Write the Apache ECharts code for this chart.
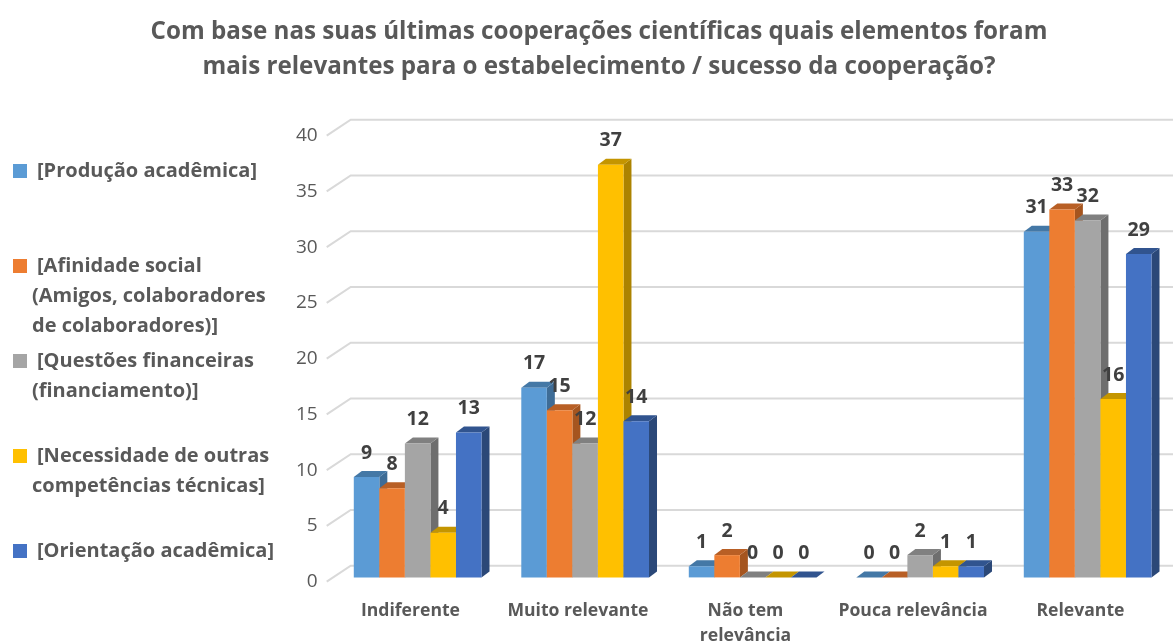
<!DOCTYPE html>
<html>
<head>
<meta charset="utf-8">
<style>
  html, body { margin: 0; padding: 0; background: #fff; }
  #chart { width: 1173px; height: 644px; }
</style>
<script src="https://cdn.jsdelivr.net/npm/echarts@6/dist/echarts.min.js"></script>
</head>
<body>
<div id="chart"></div>
<script>
const titleText = 'Com base nas suas últimas cooperações científicas quais elementos foram\nmais relevantes para o estabelecimento / sucesso da cooperação?';
const categories = ['Indiferente', 'Muito relevante', 'Não tem\nrelevância', 'Pouca relevância', 'Relevante'];
const yTicks = [0, 5, 10, 15, 20, 25, 30, 35, 40];

const seriesNames = [
  '[Produção acadêmica]',
  '[Afinidade social\n(Amigos, colaboradores\nde colaboradores)]',
  '[Questões financeiras\n(financiamento)]',
  '[Necessidade de outras\ncompetências técnicas]',
  '[Orientação acadêmica]'
];
const producao = [9, 17, 1, 0, 31];
const afinidade = [8, 15, 2, 0, 33];
const questoes = [12, 12, 0, 2, 32];
const necessidade = [4, 37, 0, 1, 16];
const orientacao = [13, 14, 0, 1, 29];
const allValues = [producao, afinidade, questoes, necessidade, orientacao];

const frontColors = ['#5B9BD5', '#ED7D31', '#A5A5A5', '#FFC000', '#4472C4'];
const topColors = ['#4478A6', '#B85F25', '#808080', '#C49500', '#31548F'];
const sideColors = ['#3E6C96', '#A5551F', '#6E6E6E', '#AC8300', '#2B4878'];

const font = '"Open Sans", sans-serif';
const barShare = 0.1525; // parte da categoria ocupada por uma barra
const shift = [7.2, -4.3]; // barras ficam a meio da profundidade
const depth = [8, -6];

const chart = echarts.init(document.getElementById('chart'));

// linhas de grade com o pequeno trecho inclinado à esquerda
const renderGridLine = (params, api) => {
  const cs = params.coordSys;
  const y = api.coord([0, api.value(0)])[1];
  return {
    type: 'polyline',
    shape: {
      points: [[cs.x, y], [cs.x + 24, y - 16], [cs.x + cs.width + 24, y - 16]]
    },
    style: { stroke: '#D9D9D9', lineWidth: 2, fill: null },
    silent: true
  };
};

const renderBar = (s) => (params, api) => {
  const top = api.coord([api.value(0), api.value(1)]);
  const base = api.coord([api.value(0), 0]);
  const w = api.size([1, 0])[0] * barShare;
  const x = top[0] + shift[0] - w * 2.5 + w * s;
  const y1 = top[1] + shift[1];
  const y0 = base[1] + shift[1];
  const [dx, dy] = depth;
  return {
    type: 'group',
    children: [
      {
        type: 'polygon',
        shape: { points: [[x + w, y1], [x + w + dx, y1 + dy], [x + w + dx, y0 + dy], [x + w, y0]] },
        style: { fill: sideColors[s] }
      },
      {
        type: 'polygon',
        shape: { points: [[x, y1], [x + dx, y1 + dy], [x + w + dx, y1 + dy], [x + w, y1]] },
        style: { fill: topColors[s] }
      },
      {
        type: 'rect',
        shape: { x: x, y: y1, width: w, height: y0 - y1 },
        style: { fill: frontColors[s] }
      }
    ]
  };
};

// rótulos numa série própria, por cima de todas as barras
const renderValueLabel = (params, api) => {
  const s = api.value(2);
  const top = api.coord([api.value(0), api.value(1)]);
  const w = api.size([1, 0])[0] * barShare;
  return {
    type: 'text',
    x: top[0] + shift[0] - w * 2 + w * s,
    y: top[1] + shift[1] - 24,
    style: {
      text: String(api.value(1)),
      fill: '#404040',
      font: 'bold 19.5px ' + font,
      textAlign: 'center',
      textVerticalAlign: 'middle'
    }
  };
};

const barSeries = allValues.map((values, s) => ({
  name: seriesNames[s].replace(/\n/g, ' '),
  type: 'custom',
  z: 3 + s,
  renderItem: renderBar(s),
  data: values.map((v, i) => [i, v])
}));

const labelData = [];
allValues.forEach((values, s) => {
  values.forEach((v, i) => labelData.push([i, v, s]));
});

// legenda manual: o quadrado acompanha a primeira linha do texto
const legendGraphics = [];
seriesNames.forEach((name, s) => {
  const yCenter = 171 + 95 * s;
  legendGraphics.push({
    type: 'rect',
    shape: { x: 13, y: yCenter - 7, width: 14, height: 14 },
    style: { fill: frontColors[s] }
  });
  name.split('\n').forEach((line, l) => {
    legendGraphics.push({
      type: 'text',
      x: l === 0 ? 37 : 32,
      y: yCenter + l * 30,
      style: {
        text: line,
        fill: '#595959',
        font: 'bold 20px ' + font,
        textVerticalAlign: 'middle'
      }
    });
  });
});

chart.setOption({
  animation: false,
  backgroundColor: '#fff',
  title: {
    text: titleText,
    left: 594,
    top: 10,
    textAlign: 'center',
    textStyle: {
      color: '#595959',
      fontFamily: font,
      fontWeight: 'bold',
      fontSize: 24.2,
      lineHeight: 35
    }
  },
  grid: { left: 326.7, top: 135.7, width: 837.5, height: 446, outerBoundsMode: 'none' },
  xAxis: {
    type: 'category',
    data: categories,
    axisLine: { show: false },
    axisTick: { show: false },
    axisLabel: {
      margin: 17,
      interval: 0,
      color: '#595959',
      fontFamily: font,
      fontWeight: 'bold',
      fontSize: 17.6,
      lineHeight: 25
    }
  },
  yAxis: {
    type: 'value',
    min: 0,
    max: 40,
    interval: 5,
    axisLine: { show: false },
    axisTick: { show: false },
    splitLine: { show: false },
    axisLabel: {
      margin: 9,
      padding: [2, 0, 0, 0],
      color: '#595959',
      fontFamily: font,
      fontSize: 19
    }
  },
  graphic: legendGraphics,
  series: [
    {
      name: 'grade',
      type: 'custom',
      z: 1,
      silent: true,
      renderItem: renderGridLine,
      encode: { y: 0 },
      data: yTicks.map((v) => [v])
    },
    ...barSeries,
    {
      name: 'rótulos',
      type: 'custom',
      z: 10,
      silent: true,
      renderItem: renderValueLabel,
      data: labelData
    }
  ]
});
</script>
</body>
</html>
